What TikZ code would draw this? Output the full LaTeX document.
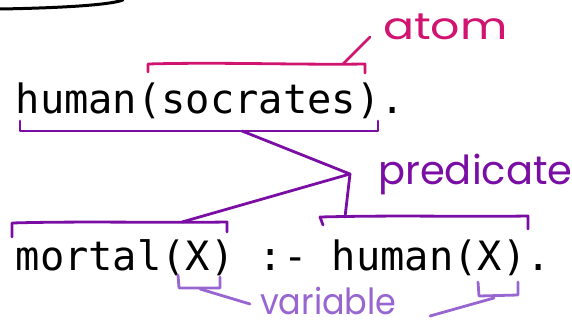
\documentclass[tikz,border=0pt]{standalone}
\usepackage{fontspec}
\usepackage{graphicx}
\newfontfamily\codefont{DejaVu Sans Mono}
\newfontfamily\handfont{Poppins}
\definecolor{atomc}{RGB}{208,20,112}
\definecolor{predc}{RGB}{122,14,164}
\definecolor{varc}{RGB}{152,102,208}
\begin{document}
\begin{tikzpicture}[x=1pt,y=-1pt,
  code/.style={font=\codefont\fontsize{40.4}{48}\selectfont, inner sep=0pt, anchor=base west},
  hand/.style={font=\handfont\fontsize{34}{40}\selectfont, inner sep=0pt, anchor=base west},
  pen/.style={line width=2.8pt, line cap=round, line join=round}]
\useasboundingbox (0,0) rectangle (572,329);
% stray black stroke at top left
\draw[line width=3pt, line cap=round] (0,9) .. controls (60,8) and (110,5) .. (123,0);
% code lines
\node[code] (fact) at (15.5,113) {human(socrates).};
\node[code] (rule) at (15.5,270) {mortal(X) :- human(X).};
% labels
\node[hand, text=atomc] (atom) at (383,40) {\scalebox{1.35}[1.1]{atom}};
\node[hand, text=predc, font=\handfont\fontsize{40}{46}\selectfont] (pred) at (378,184) {predicate};
\node[hand, text=varc, font=\handfont\fontsize{36}{40}\selectfont] (var) at (260,314) {\scalebox{0.93}[1]{variable}};
% atom bracket
\coordinate (a1) at (148,72);
\coordinate (a2) at (365,73);
\coordinate (aj) at (343,64);
\coordinate (at) at (370,37);
\draw[pen, atomc] (a1) -- (148,64) .. controls (220,62) and (300,65) .. (365,64) -- (a2);
\draw[pen, atomc] (aj) -- (at);
% predicate brackets
\coordinate (p1) at (20,121);
\coordinate (p2) at (378,121);
\coordinate (pj) at (242,131);
\coordinate (apex) at (350,174);
\coordinate (mj) at (182,222);
\coordinate (hj) at (345,217);
\draw[pen, predc] (p1) -- (20,131) -- (378,131) -- (p2);
\draw[pen, predc] (pj) -- (apex) -- (mj);
\draw[pen, predc] (apex) -- (hj);
\draw[pen, predc] (12,237) -- (12,223) .. controls (80,221) and (160,223) .. (227,222) -- (227,232);
\draw[pen, predc] (323,225) -- (320,217) .. controls (400,215) and (460,217) .. (528,216) -- (528,229);
% variable brackets
\coordinate (vl) at (250,304);
\coordinate (vr) at (430,316);
\draw[pen, varc] (178,275) -- (179,288) -- (220,288) -- (220,277);
\draw[pen, varc] (200,289) -- (vl);
\draw[pen, varc] (478,282) -- (479,296) -- (518,295) -- (518,282);
\draw[pen, varc] (494,298) -- (vr);
\end{tikzpicture}
\end{document}
